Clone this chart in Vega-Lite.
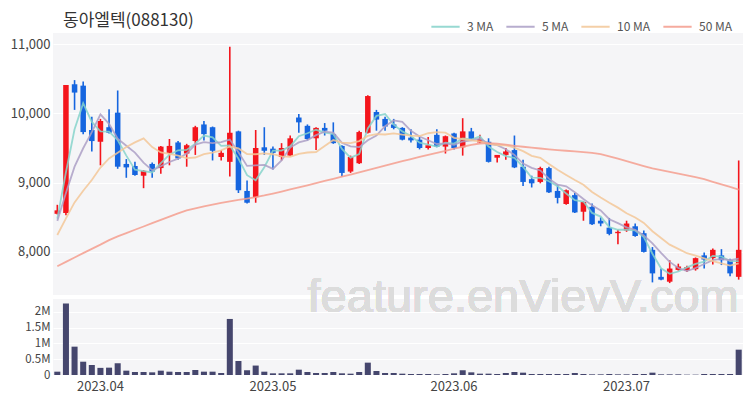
{
  "$schema": "https://vega.github.io/schema/vega-lite/v6.json",
  "padding": {"left": 10, "top": 11, "right": 10, "bottom": 3},
  "background": "#ffffff",
  "title": {"text": "동아엘텍(088130)", "anchor": "start", "frame": "group", "fontSize": 17, "fontWeight": "normal", "color": "#333333", "font": "Noto Sans CJK KR", "offset": -19, "dx": 10},
  "config": {
    "font": "Noto Sans CJK KR",
    "view": {"stroke": null, "fill": "#f5f5f7"},
    "axis": {"labelFont": "Noto Sans CJK KR", "labelFontSize": 13, "labelColor": "#444444", "domain": false, "ticks": false, "gridColor": "#ffffff", "gridWidth": 1, "gridOpacity": 1, "labelOverlap": false}
  },
  "data": {"values": [
    {"d":"2023-03-27","o":8550,"h":8680,"l":8540,"c":8600,"v":105000,"ma3":8480,"ma5":8448,"ma10":8244,"ma50":7793},
    {"d":"2023-03-28","o":8560,"h":10410,"l":8530,"c":10410,"v":2260000,"ma3":9150,"ma5":8850,"ma10":8485,"ma50":7856},
    {"d":"2023-03-29","o":10420,"h":10480,"l":10050,"c":10300,"v":895000,"ma3":9770,"ma5":9230,"ma10":8715,"ma50":7919},
    {"d":"2023-03-30","o":10400,"h":10460,"l":9700,"c":9730,"v":420000,"ma3":10147,"ma5":9496,"ma10":8883,"ma50":7982},
    {"d":"2023-03-31","o":9760,"h":9950,"l":9450,"c":9600,"v":316000,"ma3":9877,"ma5":9728,"ma10":9038,"ma50":8044},
    {"d":"2023-04-03","o":9590,"h":9920,"l":9250,"c":9890,"v":225000,"ma3":9740,"ma5":9986,"ma10":9217,"ma50":8105},
    {"d":"2023-04-04","o":9800,"h":10060,"l":9710,"c":9720,"v":232000,"ma3":9737,"ma5":9848,"ma10":9349,"ma50":8170},
    {"d":"2023-04-05","o":10010,"h":10330,"l":9200,"c":9230,"v":368000,"ma3":9613,"ma5":9634,"ma10":9432,"ma50":8225},
    {"d":"2023-04-06","o":9270,"h":9340,"l":9070,"c":9220,"v":137000,"ma3":9390,"ma5":9532,"ma10":9514,"ma50":8272},
    {"d":"2023-04-07","o":9240,"h":9300,"l":9100,"c":9110,"v":95000,"ma3":9187,"ma5":9434,"ma10":9581,"ma50":8320},
    {"d":"2023-04-10","o":9100,"h":9180,"l":8920,"c":9170,"v":95000,"ma3":9167,"ma5":9290,"ma10":9638,"ma50":8367},
    {"d":"2023-04-11","o":9270,"h":9290,"l":9070,"c":9160,"v":84000,"ma3":9147,"ma5":9178,"ma10":9513,"ma50":8415},
    {"d":"2023-04-12","o":9210,"h":9530,"l":9130,"c":9520,"v":137000,"ma3":9283,"ma5":9236,"ma10":9435,"ma50":8462},
    {"d":"2023-04-13","o":9430,"h":9630,"l":9250,"c":9530,"v":105000,"ma3":9403,"ma5":9298,"ma10":9415,"ma50":8510},
    {"d":"2023-04-14","o":9580,"h":9600,"l":9330,"c":9350,"v":95000,"ma3":9467,"ma5":9346,"ma10":9390,"ma50":8557},
    {"d":"2023-04-17","o":9420,"h":9560,"l":9230,"c":9540,"v":95000,"ma3":9473,"ma5":9420,"ma10":9355,"ma50":8598},
    {"d":"2023-04-18","o":9600,"h":9820,"l":9400,"c":9800,"v":158000,"ma3":9563,"ma5":9548,"ma10":9363,"ma50":8630},
    {"d":"2023-04-19","o":9840,"h":9890,"l":9610,"c":9700,"v":105000,"ma3":9680,"ma5":9584,"ma10":9410,"ma50":8658},
    {"d":"2023-04-20","o":9800,"h":9810,"l":9320,"c":9460,"v":105000,"ma3":9653,"ma5":9570,"ma10":9434,"ma50":8684},
    {"d":"2023-04-21","o":9370,"h":9470,"l":9320,"c":9430,"v":63000,"ma3":9530,"ma5":9586,"ma10":9466,"ma50":8708},
    {"d":"2023-04-24","o":9300,"h":10960,"l":9090,"c":9720,"v":1770000,"ma3":9537,"ma5":9622,"ma10":9521,"ma50":8730},
    {"d":"2023-04-25","o":9740,"h":9750,"l":8850,"c":8890,"v":442000,"ma3":9347,"ma5":9440,"ma10":9494,"ma50":8752},
    {"d":"2023-04-26","o":8880,"h":9030,"l":8700,"c":8710,"v":150000,"ma3":9107,"ma5":9242,"ma10":9413,"ma50":8770},
    {"d":"2023-04-27","o":8790,"h":9760,"l":8710,"c":9500,"v":298000,"ma3":9033,"ma5":9250,"ma10":9410,"ma50":8790},
    {"d":"2023-04-28","o":9510,"h":9800,"l":9400,"c":9460,"v":105000,"ma3":9223,"ma5":9256,"ma10":9421,"ma50":8815},
    {"d":"2023-05-02","o":9490,"h":9520,"l":9190,"c":9430,"v":53000,"ma3":9463,"ma5":9198,"ma10":9410,"ma50":8843},
    {"d":"2023-05-03","o":9370,"h":9570,"l":9320,"c":9500,"v":53000,"ma3":9463,"ma5":9320,"ma10":9380,"ma50":8872},
    {"d":"2023-05-04","o":9390,"h":9680,"l":9380,"c":9640,"v":53000,"ma3":9523,"ma5":9506,"ma10":9374,"ma50":8902},
    {"d":"2023-05-08","o":9940,"h":9990,"l":9720,"c":9870,"v":168000,"ma3":9670,"ma5":9580,"ma10":9415,"ma50":8932},
    {"d":"2023-05-09","o":9820,"h":9840,"l":9610,"c":9630,"v":95000,"ma3":9713,"ma5":9614,"ma10":9435,"ma50":8962},
    {"d":"2023-05-10","o":9640,"h":9800,"l":9470,"c":9790,"v":63000,"ma3":9763,"ma5":9686,"ma10":9442,"ma50":8993},
    {"d":"2023-05-11","o":9790,"h":9860,"l":9680,"c":9750,"v":63000,"ma3":9723,"ma5":9736,"ma10":9528,"ma50":9024},
    {"d":"2023-05-12","o":9700,"h":9870,"l":9560,"c":9570,"v":95000,"ma3":9703,"ma5":9722,"ma10":9614,"ma50":9055},
    {"d":"2023-05-15","o":9530,"h":9540,"l":9090,"c":9140,"v":53000,"ma3":9487,"ma5":9576,"ma10":9578,"ma50":9085},
    {"d":"2023-05-16","o":9160,"h":9390,"l":9140,"c":9370,"v":42000,"ma3":9360,"ma5":9524,"ma10":9569,"ma50":9117},
    {"d":"2023-05-17","o":9280,"h":9750,"l":9270,"c":9730,"v":95000,"ma3":9413,"ma5":9512,"ma10":9599,"ma50":9149},
    {"d":"2023-05-18","o":9720,"h":10260,"l":9710,"c":10250,"v":390000,"ma3":9783,"ma5":9612,"ma10":9674,"ma50":9181},
    {"d":"2023-05-19","o":10020,"h":10050,"l":9750,"c":9910,"v":126000,"ma3":9963,"ma5":9680,"ma10":9701,"ma50":9213},
    {"d":"2023-05-22","o":9920,"h":9950,"l":9750,"c":9810,"v":63000,"ma3":9990,"ma5":9814,"ma10":9695,"ma50":9245},
    {"d":"2023-05-23","o":9840,"h":9920,"l":9770,"c":9790,"v":63000,"ma3":9837,"ma5":9898,"ma10":9711,"ma50":9277},
    {"d":"2023-05-24","o":9790,"h":9800,"l":9610,"c":9620,"v":42000,"ma3":9740,"ma5":9876,"ma10":9694,"ma50":9309},
    {"d":"2023-05-25","o":9650,"h":9770,"l":9580,"c":9610,"v":32000,"ma3":9673,"ma5":9748,"ma10":9680,"ma50":9341},
    {"d":"2023-05-26","o":9620,"h":9670,"l":9480,"c":9500,"v":32000,"ma3":9577,"ma5":9666,"ma10":9673,"ma50":9372},
    {"d":"2023-05-30","o":9500,"h":9660,"l":9480,"c":9540,"v":32000,"ma3":9550,"ma5":9612,"ma10":9713,"ma50":9402},
    {"d":"2023-05-31","o":9690,"h":9770,"l":9510,"c":9520,"v":21000,"ma3":9520,"ma5":9558,"ma10":9728,"ma50":9430},
    {"d":"2023-06-01","o":9520,"h":9680,"l":9420,"c":9670,"v":32000,"ma3":9577,"ma5":9568,"ma10":9722,"ma50":9458},
    {"d":"2023-06-02","o":9710,"h":9720,"l":9480,"c":9500,"v":53000,"ma3":9563,"ma5":9546,"ma10":9647,"ma50":9490},
    {"d":"2023-06-05","o":9510,"h":9930,"l":9390,"c":9740,"v":150000,"ma3":9637,"ma5":9594,"ma10":9630,"ma50":9518},
    {"d":"2023-06-07","o":9740,"h":9790,"l":9620,"c":9630,"v":84000,"ma3":9623,"ma5":9612,"ma10":9612,"ma50":9545},
    {"d":"2023-06-08","o":9580,"h":9690,"l":9570,"c":9630,"v":42000,"ma3":9667,"ma5":9634,"ma10":9596,"ma50":9565},
    {"d":"2023-06-09","o":9590,"h":9640,"l":9290,"c":9300,"v":42000,"ma3":9520,"ma5":9560,"ma10":9564,"ma50":9570},
    {"d":"2023-06-12","o":9360,"h":9400,"l":9290,"c":9400,"v":32000,"ma3":9443,"ma5":9540,"ma10":9543,"ma50":9562},
    {"d":"2023-06-13","o":9400,"h":9500,"l":9330,"c":9450,"v":63000,"ma3":9383,"ma5":9482,"ma10":9538,"ma50":9548},
    {"d":"2023-06-14","o":9470,"h":9680,"l":9210,"c":9220,"v":95000,"ma3":9357,"ma5":9400,"ma10":9506,"ma50":9532},
    {"d":"2023-06-15","o":9230,"h":9330,"l":8950,"c":9010,"v":74000,"ma3":9227,"ma5":9276,"ma10":9455,"ma50":9518},
    {"d":"2023-06-16","o":9050,"h":9100,"l":8930,"c":8990,"v":32000,"ma3":9073,"ma5":9214,"ma10":9387,"ma50":9505},
    {"d":"2023-06-19","o":9010,"h":9230,"l":8990,"c":9210,"v":32000,"ma3":9070,"ma5":9176,"ma10":9358,"ma50":9493},
    {"d":"2023-06-20","o":9210,"h":9230,"l":8850,"c":8860,"v":32000,"ma3":9020,"ma5":9058,"ma10":9270,"ma50":9481},
    {"d":"2023-06-21","o":8880,"h":8970,"l":8700,"c":8780,"v":32000,"ma3":8950,"ma5":8970,"ma10":9185,"ma50":9470},
    {"d":"2023-06-22","o":8690,"h":8900,"l":8680,"c":8890,"v":32000,"ma3":8843,"ma5":8946,"ma10":9111,"ma50":9460},
    {"d":"2023-06-23","o":8820,"h":8850,"l":8560,"c":8570,"v":63000,"ma3":8747,"ma5":8862,"ma10":9038,"ma50":9450},
    {"d":"2023-06-26","o":8580,"h":8730,"l":8450,"c":8720,"v":32000,"ma3":8727,"ma5":8764,"ma10":8970,"ma50":9440},
    {"d":"2023-06-27","o":8650,"h":8700,"l":8390,"c":8400,"v":21000,"ma3":8563,"ma5":8672,"ma10":8865,"ma50":9430},
    {"d":"2023-06-28","o":8450,"h":8500,"l":8370,"c":8410,"v":21000,"ma3":8510,"ma5":8598,"ma10":8784,"ma50":9412},
    {"d":"2023-06-29","o":8350,"h":8490,"l":8240,"c":8260,"v":32000,"ma3":8357,"ma5":8472,"ma10":8709,"ma50":9380},
    {"d":"2023-06-30","o":8270,"h":8320,"l":8110,"c":8290,"v":21000,"ma3":8320,"ma5":8416,"ma10":8639,"ma50":9345},
    {"d":"2023-07-03","o":8310,"h":8450,"l":8290,"c":8410,"v":21000,"ma3":8320,"ma5":8354,"ma10":8559,"ma50":9310},
    {"d":"2023-07-04","o":8370,"h":8410,"l":8220,"c":8230,"v":32000,"ma3":8310,"ma5":8320,"ma10":8496,"ma50":9275},
    {"d":"2023-07-05","o":8270,"h":8310,"l":7990,"c":8000,"v":32000,"ma3":8213,"ma5":8238,"ma10":8418,"ma50":9240},
    {"d":"2023-07-06","o":8030,"h":8070,"l":7560,"c":7690,"v":74000,"ma3":7973,"ma5":8124,"ma10":8298,"ma50":9207},
    {"d":"2023-07-07","o":7640,"h":7760,"l":7590,"c":7600,"v":21000,"ma3":7763,"ma5":7986,"ma10":8201,"ma50":9180},
    {"d":"2023-07-10","o":7570,"h":7880,"l":7550,"c":7760,"v":21000,"ma3":7683,"ma5":7856,"ma10":8105,"ma50":9155},
    {"d":"2023-07-11","o":7740,"h":7830,"l":7730,"c":7790,"v":21000,"ma3":7717,"ma5":7768,"ma10":8044,"ma50":9130},
    {"d":"2023-07-12","o":7730,"h":7800,"l":7710,"c":7780,"v":11000,"ma3":7777,"ma5":7724,"ma10":7981,"ma50":9105},
    {"d":"2023-07-13","o":7750,"h":7920,"l":7730,"c":7910,"v":11000,"ma3":7827,"ma5":7768,"ma10":7946,"ma50":9080},
    {"d":"2023-07-14","o":7950,"h":7990,"l":7760,"c":7890,"v":32000,"ma3":7860,"ma5":7826,"ma10":7906,"ma50":9050},
    {"d":"2023-07-17","o":7910,"h":8050,"l":7820,"c":8030,"v":32000,"ma3":7943,"ma5":7880,"ma10":7868,"ma50":9012},
    {"d":"2023-07-18","o":7950,"h":8040,"l":7810,"c":7880,"v":32000,"ma3":7933,"ma5":7898,"ma10":7833,"ma50":8975},
    {"d":"2023-07-19","o":7880,"h":7900,"l":7650,"c":7690,"v":32000,"ma3":7867,"ma5":7880,"ma10":7802,"ma50":8938},
    {"d":"2023-07-20","o":7640,"h":9320,"l":7600,"c":8030,"v":800000,"ma3":7867,"ma5":7904,"ma10":7836,"ma50":8900}
  ]},
  "spacing": 4,
  "bounds": "flush",
  "vconcat": [
    {
      "width": 690,
      "height": 262,
      "encoding": {
        "x": {"field": "d", "type": "ordinal", "scale": {"paddingInner": 0, "paddingOuter": 0}, "axis": null}
      },
      "layer": [
        {
          "mark": {"type": "rule", "strokeWidth": 1.6},
          "encoding": {
            "y": {"field": "l", "type": "quantitative", "scale": {"domain": [7378, 11160], "nice": false, "zero": false},
                  "axis": {"values": [8000, 9000, 10000, 11000], "format": ",d", "grid": true, "title": null, "labelPadding": 3, "minExtent": 40, "maxExtent": 40}},
            "y2": {"field": "h"},
            "color": {"condition": {"test": "datum.c >= datum.o", "value": "#f4151c"}, "value": "#1565df"}
          }
        },
        {
          "mark": {"type": "bar", "width": {"band": 0.64}},
          "encoding": {
            "y": {"field": "o", "type": "quantitative"},
            "y2": {"field": "c"},
            "color": {"condition": {"test": "datum.c >= datum.o", "value": "#f4151c"}, "value": "#1565df"}
          }
        },
        {
          "transform": [{"fold": ["ma3", "ma5", "ma10", "ma50"], "as": ["ma", "val"]}],
          "mark": {"type": "line", "strokeWidth": 1.8, "opacity": 0.85},
          "encoding": {
            "y": {"field": "val", "type": "quantitative"},
            "color": {"field": "ma", "type": "nominal",
              "scale": {"domain": ["ma3", "ma5", "ma10", "ma50"], "range": ["#86d3cb", "#ab9fc6", "#f3c798", "#f49d8e"]},
              "legend": {"orient": "none", "legendX": 377, "legendY": -22, "direction": "horizontal", "columns": 4, "title": null,
                "symbolType": "stroke", "symbolSize": 800, "symbolStrokeWidth": 2, "labelFontSize": 12, "labelColor": "#555555",
                "columnPadding": 8, "labelOffset": 6,
                "labelExpr": "{'ma3':'3 MA','ma5':'5 MA','ma10':'10 MA','ma50':'50 MA'}[datum.value]"}
            }
          }
        }
      ]
    },
    {
      "width": 690,
      "height": 76,
      "encoding": {
        "x": {"field": "d", "type": "ordinal", "scale": {"paddingInner": 0, "paddingOuter": 0},
              "axis": {"values": ["2023-04-03", "2023-05-02", "2023-06-02", "2023-07-03"], "labelExpr": "replace(slice(datum.value, 0, 7), '-', '.')", "labelAngle": 0, "grid": false, "title": null, "labelPadding": 5}}
      },
      "layer": [
        {
          "mark": {"type": "bar", "width": {"band": 0.7}, "color": "#45466d"},
          "encoding": {
            "y": {"field": "v", "type": "quantitative", "scale": {"domain": [0, 2400000], "nice": false},
                  "axis": {"values": [0, 500000, 1000000, 1500000, 2000000], "labelExpr": "datum.value == 0 ? '0' : (datum.value / 1000000) + 'M'", "labelOverlap": false, "labelFontSize": 11.5, "grid": true, "title": null, "labelPadding": 3, "minExtent": 40, "maxExtent": 40}}
          }
        },
        {
          "mark": {"type": "text", "text": "feature.enVievV.com", "font": "Liberation Sans", "fontSize": 47, "fill": "#dcdcdc", "opacity": 0.85, "align": "right", "baseline": "alphabetic"},
          "encoding": {
            "x": {"datum": "2023-07-20", "type": "ordinal"},
            "y": {"datum": 1990000, "type": "quantitative",
                  "axis": {"values": [0, 500000, 1000000, 1500000, 2000000], "labelExpr": "datum.value == 0 ? '0' : (datum.value / 1000000) + 'M'", "labelOverlap": false, "labelFontSize": 11.5, "grid": true, "title": null, "labelPadding": 3, "minExtent": 40, "maxExtent": 40}}
          }
        }
      ]
    }
  ]
}
